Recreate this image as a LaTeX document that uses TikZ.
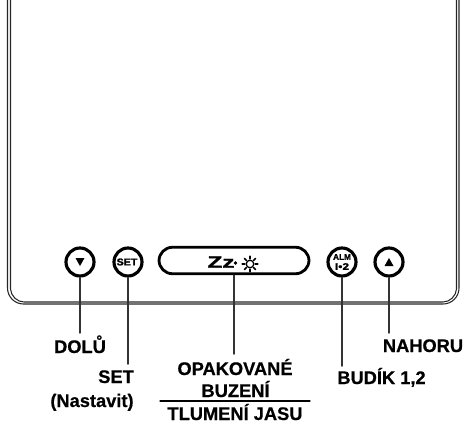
\documentclass[tikz,border=0pt]{standalone}
\usepackage{fontspec}
\setmainfont{Liberation Sans}
\newfontfamily\heavyfont[BoldFont={},FakeBold=0.6]{Liberation Sans Bold}
\newfontfamily\blackfont[BoldFont={},FakeBold=1.6]{Liberation Sans Bold}
\usetikzlibrary{arrows}
\begin{document}
\begin{tikzpicture}[line cap=round,line join=round,x=0.02cm,y=-0.02cm,
	roundbtn/.style={draw=black,circle,line width=1.8pt,minimum size=0.56cm,inner sep=0pt},
	pillbtn/.style={draw=black,rounded corners=0.27cm,line width=1.6pt,minimum width=3.0cm,minimum height=0.53cm,inner sep=0pt},
	caption/.style={font=\fontsize{10.4}{12}\heavyfont,anchor=base,inner sep=0pt,text=black},
	tiny label/.style={font=\fontsize{#1}{#1}\blackfont,inner sep=0pt,anchor=center},
	leader/.style={line width=0.85pt,color=black!80},
	shell/.style={line width=0.6pt,color=black!85}]
	\useasboundingbox (0,0) rectangle (465,422);
	\draw [shell] (7.5,0)-- (7.5,288) arc (180:90:16) -- (443,304) arc (90:0:16) -- (459,0);
	\draw [shell] (10.5,0)-- (10.5,289) .. controls (11,296) and (17,302) .. (24,302) -- (443,302) .. controls (450,302) and (456,296) .. (456.5,289) -- (456.5,0);
	\node[roundbtn] (btnDown) at (80,262) {};
	\node[roundbtn] (btnSet) at (128,262) {};
	\node[pillbtn] (btnSnooze) at (234,260.5) {};
	\node[roundbtn] (btnAlarm) at (342,262) {};
	\node[roundbtn] (btnUp) at (389,262) {};
	\fill[black,shift={(btnDown)}] (-4.5,-4)-- (4.5,-4)-- (0,4)-- cycle;
	\fill[black,shift={(btnUp)}] (-4.5,4)-- (4.5,4)-- (0,-4)-- cycle;
	\node[tiny label=5.6,xscale=1.08,transform shape] (txtSet) at (127,262) {SET};
	\node[tiny label=4.7] (txtAlm) at (342,257) {ALM};
	\node[tiny label=5.4,xscale=1.25,transform shape] (txtOneTwo) at (342,266.5) {I•2};
	\node[tiny label=9.5,xscale=1.45,transform shape] (txtZz) at (221,262) {Zz};
	\fill[black] (235.5,263) circle (1.8);
	\draw[line width=0.75pt] (250,264) circle (3.8);
	\foreach \ang in {0,45,...,315}
		\draw[line width=0.95pt,shift={(250,264)}] (\ang:5.2)-- (\ang:7.8);
	\coordinate (endDown) at (80,333);
	\coordinate (endSet) at (128,364);
	\coordinate (endSnooze) at (234,354);
	\coordinate (endAlarm) at (342,366);
	\coordinate (endUp) at (389,333);
	\draw [leader] (btnDown.south)-- (endDown);
	\draw [leader] (btnSet.south)-- (endSet);
	\draw [leader] (btnSnooze.south)-- (endSnooze);
	\draw [leader] (btnAlarm.south)-- (endAlarm);
	\draw [leader] (btnUp.south)-- (endUp);
	\node[caption] (lblDown) at (80,353) {DOLŮ};
	\node[caption] (lblSet) at (116,383) {SET};
	\node[caption] (lblSetNote) at (92,407) {(Nastavit)};
	\node[caption] (lblSnoozeA) at (235,375) {OPAKOVANÉ};
	\node[caption] (lblSnoozeB) at (235.5,397) {BUZENÍ};
	\node[caption] (lblDim) at (235,420) {TLUMENÍ JASU};
	\node[caption] (lblAlarm) at (381.5,384) {BUDÍK 1,2};
	\node[caption] (lblUp) at (423,352) {NAHORU};
	\coordinate (ruleLeft) at (160,401);
	\coordinate (ruleRight) at (310,401);
	\draw [line width=0.6pt] (ruleLeft)-- (ruleRight);
\end{tikzpicture}
\end{document}
